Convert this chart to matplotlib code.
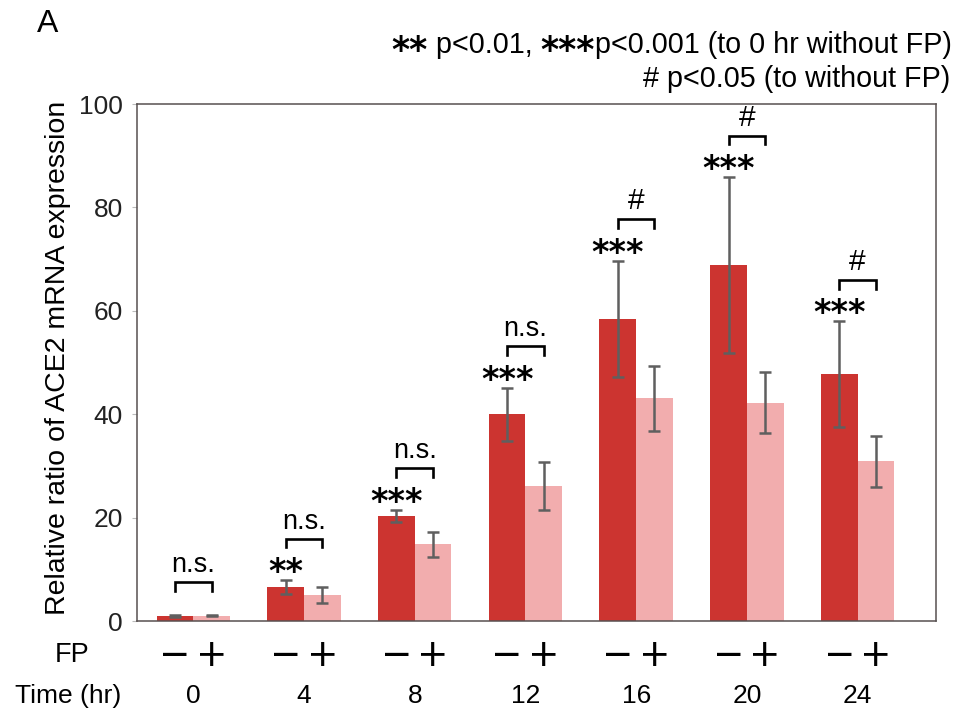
import matplotlib
matplotlib.use("Agg")
import matplotlib.pyplot as plt
import matplotlib.transforms as mtransforms
import numpy as np

plt.rcParams['font.family'] = ['Liberation Sans', 'DejaVu Sans']

# ACE2 mRNA expression, relative to 0 hr without FP
hours = ["0", "4", "8", "12", "16", "20", "24"]
mean_without_fp = [1.0, 6.6, 20.4, 40.0, 58.5, 68.9, 47.8]
sd_without_fp = [0.15, 1.4, 1.15, 5.2, 11.2, 17.0, 10.2]
mean_with_fp = [1.05, 5.1, 14.9, 26.2, 43.1, 42.3, 30.9]
sd_with_fp = [0.1, 1.55, 2.4, 4.65, 6.25, 5.85, 4.95]
stars_vs_0h = ["", "**", "***", "***", "***", "***", "***"]
marks_vs_fp = ["n.s.", "n.s.", "n.s.", "n.s.", "#", "#", "#"]

DARK = "#cc3430"
LIGHT = "#f2adae"
ERR = "#5f5f5f"
W = 0.331

fig = plt.figure(figsize=(9.56, 7.15), dpi=100)
ax = fig.add_axes([0.143, 0.131, 0.8358, 0.7235])

x = np.arange(len(hours))
err_kw = dict(ecolor=ERR, elinewidth=1.8, capsize=4.4, capthick=1.8)
ax.bar(x - W / 2, mean_without_fp, W, yerr=sd_without_fp, color=DARK,
       error_kw=err_kw, zorder=2)
ax.bar(x + W / 2, mean_with_fp, W, yerr=sd_with_fp, color=LIGHT,
       error_kw=err_kw, zorder=2)

ax.set_xlim(-0.511, 6.706)
ax.set_ylim(0, 100)
ax.set_yticks([0, 20, 40, 60, 80, 100])
ax.set_xticks([])
ax.tick_params(axis='y', length=3.6, width=0.8, color="#bbbbbb",
               pad=6.3, labelsize=19, labelcolor="#222222")
for sp in ax.spines.values():
    sp.set_color("#575050")
    sp.set_linewidth(1.1)

# significance: stars over the untreated bar, bracket between the pair
for i in range(len(hours)):
    hi_dark = mean_without_fp[i] + sd_without_fp[i]
    hi_light = mean_with_fp[i] + sd_with_fp[i]
    if stars_vs_0h[i]:
        ax.annotate(stars_vs_0h[i], xy=(x[i] - W / 2, hi_dark),
                    xytext=(0, -1.5), textcoords='offset points',
                    ha='center', va='baseline', fontsize=24,
                    family='DejaVu Sans', fontweight='bold')
        yb = max(hi_dark, hi_light) + 8
    else:
        yb = max(hi_dark, hi_light) + 6.5
    ax.plot([x[i] - W / 2, x[i] - W / 2, x[i] + W / 2, x[i] + W / 2],
            [yb - 1.7, yb, yb, yb - 1.7], color="black", lw=1.9,
            solid_joinstyle='miter', clip_on=False)
    ax.annotate(marks_vs_fp[i], xy=(x[i], yb), xytext=(0, 7.2),
                textcoords='offset points', ha='center', va='baseline',
                fontsize=19.5 if marks_vs_fp[i] == "n.s." else 21.5)

# FP and time rows under the axis
trans = mtransforms.blended_transform_factory(ax.transData, fig.transFigure)
for i in range(len(hours)):
    ax.text(x[i] - W / 2, 0.0685, "\u2212", transform=trans, ha='center',
            va='baseline', fontsize=27, family='DejaVu Sans')
    ax.text(x[i] + W / 2, 0.0685, "+", transform=trans, ha='center',
            va='baseline', fontsize=27, family='DejaVu Sans')
    ax.text(x[i], 0.0163, hours[i], transform=trans, ha='center',
            va='baseline', fontsize=19)
fig.text(0.0575, 0.0745, "FP", ha='left', va='baseline', fontsize=19.5)
fig.text(0.0157, 0.0163, "Time (hr)", ha='left', va='baseline', fontsize=19)

fig.text(0.0609, 0.5, "Relative ratio of ACE2 mRNA expression",
         rotation=90, ha='center', va='center', fontsize=20.5)
fig.text(0.0387, 1 - 32 / 715, "A", ha='left', va='baseline', fontsize=23)

# legend text at the top right, stars set in a heavier face
star_kw = dict(fontsize=25, family='DejaVu Sans', fontweight='bold')
text_kw = dict(fontsize=20.7)
y_text = 1 - 53.3 / 715
y_star = 1 - 60.5 / 715
pieces = [("**", star_kw, y_star),
          (" p<0.01, ", text_kw, y_text),
          ("***", star_kw, y_star),
          ("p<0.001 (to 0 hr without FP)", text_kw, y_text)]
prev = None
for s, kw, yy in reversed(pieces):
    if prev is None:
        prev = fig.text(0.9955, yy, s, ha='right', va='baseline', **kw)
    else:
        prev = ax.annotate(s, xy=(0, yy), xycoords=(prev, 'figure fraction'),
                           ha='right', va='baseline', annotation_clip=False,
                           **kw)
fig.text(0.9937, 1 - 86.7 / 715, "# p<0.05 (to without FP)", ha='right',
         va='baseline', fontsize=20.7)

fig.savefig("out.png", dpi=100)
